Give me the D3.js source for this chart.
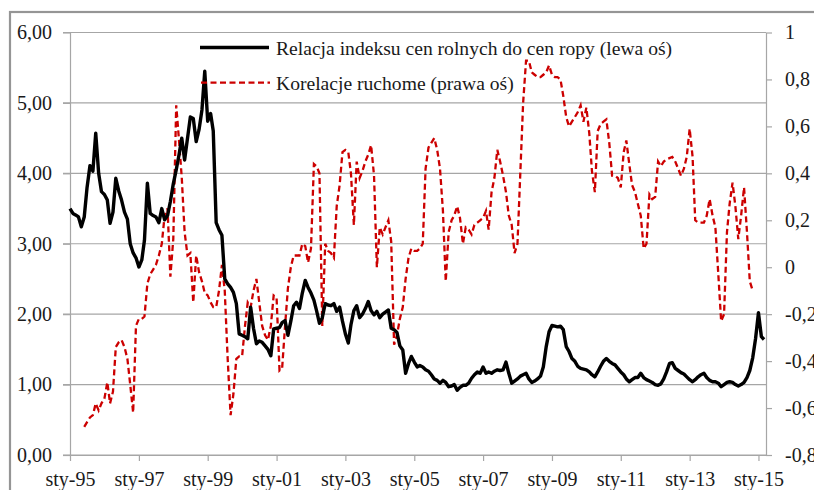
<!DOCTYPE html>
<html><head><meta charset="utf-8">
<script src="https://cdn.jsdelivr.net/npm/d3@7"></script>
<style>
html,body{margin:0;padding:0;background:#fff;overflow:hidden}
svg{display:block}
</style></head>
<body><svg id="c" width="814" height="490"></svg>
<script>
// ---- data ----
const relDates = ["1995-01","1995-02","1995-03","1995-04","1995-05","1995-06","1995-07","1995-08","1995-09","1995-10","1995-11","1995-12",
"1996-01","1996-02","1996-03","1996-04","1996-05","1996-06","1996-07","1996-08","1996-09","1996-10","1996-11","1996-12",
"1997-01","1997-02","1997-03","1997-04","1997-05","1997-06","1997-07","1997-08","1997-09","1997-10","1997-11","1997-12",
"1998-01","1998-02","1998-03","1998-04","1998-05","1998-06","1998-07","1998-08","1998-09","1998-10","1998-11","1998-12",
"1999-01","1999-02","1999-03","1999-04","1999-05","1999-06","1999-07","1999-08","1999-09","1999-10","1999-11","1999-12",
"2000-01","2000-02","2000-03","2000-04","2000-05","2000-06","2000-07","2000-08","2000-09","2000-10","2000-11","2000-12",
"2001-01","2001-02","2001-03","2001-04","2001-05","2001-06","2001-07","2001-08","2001-09","2001-10","2001-11","2001-12",
"2002-01","2002-02","2002-03","2002-04","2002-05","2002-06","2002-07","2002-08","2002-09","2002-10","2002-11","2002-12",
"2003-01","2003-02","2003-03","2003-04","2003-05","2003-06","2003-07","2003-08","2003-09","2003-10","2003-11","2003-12",
"2004-01","2004-02","2004-03","2004-04","2004-05","2004-06","2004-07","2004-08","2004-09","2004-10","2004-11","2004-12",
"2005-01","2005-02","2005-03","2005-04","2005-05","2005-06","2005-07","2005-08","2005-09","2005-10","2005-11","2005-12",
"2006-01","2006-02","2006-03","2006-04","2006-05","2006-06","2006-07","2006-08","2006-09","2006-10","2006-11","2006-12",
"2007-01","2007-02","2007-03","2007-04","2007-05","2007-06","2007-07","2007-08","2007-09","2007-10","2007-11","2007-12",
"2008-01","2008-02","2008-03","2008-04","2008-05","2008-06","2008-07","2008-08","2008-09","2008-10","2008-11","2008-12",
"2009-01","2009-02","2009-03","2009-04","2009-05","2009-06","2009-07","2009-08","2009-09","2009-10","2009-11","2009-12",
"2010-01","2010-02","2010-03","2010-04","2010-05","2010-06","2010-07","2010-08","2010-09","2010-10","2010-11","2010-12",
"2011-01","2011-02","2011-03","2011-04","2011-05","2011-06","2011-07","2011-08","2011-09","2011-10","2011-11","2011-12",
"2012-01","2012-02","2012-03","2012-04","2012-05","2012-06","2012-07","2012-08","2012-09","2012-10","2012-11","2012-12",
"2013-01","2013-02","2013-03","2013-04","2013-05","2013-06","2013-07","2013-08","2013-09","2013-10","2013-11","2013-12",
"2014-01","2014-02","2014-03","2014-04","2014-05","2014-06","2014-07","2014-08","2014-09","2014-10","2014-11","2014-12",
"2015-01","2015-02","2015-03"];
const relValues = [3.50,3.43,3.41,3.38,3.24,3.38,3.80,4.11,4.03,4.57,4.00,3.74,
3.70,3.62,3.29,3.45,3.93,3.75,3.62,3.45,3.35,3.00,2.87,2.80,
2.67,2.77,3.05,3.86,3.43,3.40,3.38,3.30,3.50,3.34,3.40,3.60,
3.85,4.05,4.25,4.50,4.19,4.50,4.80,4.78,4.45,4.62,4.90,5.45,
4.74,4.85,4.60,3.30,3.20,3.12,2.50,2.43,2.38,2.31,2.15,1.72,
1.70,1.68,1.65,2.10,1.80,1.58,1.62,1.60,1.55,1.50,1.41,1.79,
1.80,1.81,1.88,1.91,1.70,1.90,2.12,2.17,2.08,2.30,2.48,2.38,
2.30,2.20,2.05,1.87,1.95,2.15,2.13,2.12,2.15,2.04,2.10,1.90,
1.72,1.59,1.85,2.05,2.12,1.95,2.00,2.08,2.18,2.05,1.99,2.04,
1.95,2.00,2.03,2.06,1.80,1.78,1.74,1.55,1.49,1.16,1.30,1.40,
1.32,1.25,1.27,1.25,1.21,1.19,1.14,1.08,1.06,1.02,1.06,1.03,
0.97,0.98,1.00,0.92,0.96,0.99,0.99,1.02,1.09,1.14,1.18,1.16,
1.25,1.16,1.18,1.16,1.19,1.21,1.20,1.21,1.32,1.16,1.02,1.05,
1.08,1.12,1.14,1.16,1.08,1.03,1.05,1.08,1.12,1.25,1.54,1.75,
1.84,1.83,1.82,1.83,1.78,1.54,1.47,1.37,1.33,1.26,1.23,1.22,
1.21,1.18,1.14,1.11,1.18,1.26,1.33,1.37,1.33,1.30,1.28,1.23,
1.18,1.14,1.08,1.04,1.07,1.10,1.10,1.16,1.10,1.07,1.05,1.03,
1.00,0.99,1.01,1.08,1.18,1.30,1.31,1.23,1.20,1.17,1.15,1.11,
1.07,1.04,1.07,1.11,1.14,1.16,1.10,1.06,1.04,1.04,1.02,0.97,
1.00,1.03,1.04,1.03,1.00,0.98,1.00,1.03,1.10,1.20,1.38,1.65,
2.02,1.68,1.64];

const corDates = ["1995-06","1995-07","1995-08","1995-09","1995-10","1995-11","1995-12",
"1996-01","1996-02","1996-03","1996-04","1996-05","1996-06","1996-07","1996-08","1996-09","1996-10","1996-11","1996-12",
"1997-01","1997-02","1997-03","1997-04","1997-05","1997-06","1997-07","1997-08","1997-09","1997-10","1997-11","1997-12",
"1998-01","1998-02","1998-03","1998-04","1998-05","1998-06","1998-07","1998-08","1998-09","1998-10","1998-11","1998-12",
"1999-01","1999-02","1999-03","1999-04","1999-05","1999-06","1999-07","1999-08","1999-09","1999-10","1999-11","1999-12",
"2000-01","2000-02","2000-03","2000-04","2000-05","2000-06","2000-07","2000-08","2000-09","2000-10","2000-11","2000-12",
"2001-01","2001-02","2001-03","2001-04","2001-05","2001-06","2001-07","2001-08","2001-09","2001-10","2001-11","2001-12",
"2002-01","2002-02","2002-03","2002-04","2002-05","2002-06","2002-07","2002-08","2002-09","2002-10","2002-11","2002-12",
"2003-01","2003-02","2003-03","2003-04","2003-05","2003-06","2003-07","2003-08","2003-09","2003-10","2003-11","2003-12",
"2004-01","2004-02","2004-03","2004-04","2004-05","2004-06","2004-07","2004-08","2004-09","2004-10","2004-11","2004-12",
"2005-01","2005-02","2005-03","2005-04","2005-05","2005-06","2005-07","2005-08","2005-09","2005-10","2005-11","2005-12",
"2006-01","2006-02","2006-03","2006-04","2006-05","2006-06","2006-07","2006-08","2006-09","2006-10","2006-11","2006-12",
"2007-01","2007-02","2007-03","2007-04","2007-05","2007-06","2007-07","2007-08","2007-09","2007-10","2007-11","2007-12",
"2008-01","2008-02","2008-03","2008-04","2008-05","2008-06","2008-07","2008-08","2008-09","2008-10","2008-11","2008-12",
"2009-01","2009-02","2009-03","2009-04","2009-05","2009-06","2009-07","2009-08","2009-09","2009-10","2009-11","2009-12",
"2010-01","2010-02","2010-03","2010-04","2010-05","2010-06","2010-07","2010-08","2010-09","2010-10","2010-11","2010-12",
"2011-01","2011-02","2011-03","2011-04","2011-05","2011-06","2011-07","2011-08","2011-09","2011-10","2011-11","2011-12",
"2012-01","2012-02","2012-03","2012-04","2012-05","2012-06","2012-07","2012-08","2012-09","2012-10","2012-11","2012-12",
"2013-01","2013-02","2013-03","2013-04","2013-05","2013-06","2013-07","2013-08","2013-09","2013-10","2013-11","2013-12",
"2014-01","2014-02","2014-03","2014-04","2014-05","2014-06","2014-07","2014-08","2014-09","2014-10","2014-11"];
const corValues = [-0.68,-0.66,-0.64,-0.63,-0.58,-0.61,-0.58,
-0.56,-0.49,-0.58,-0.53,-0.34,-0.32,-0.31,-0.34,-0.39,-0.50,-0.62,-0.25,
-0.22,-0.22,-0.21,-0.07,-0.03,-0.01,0.01,0.05,0.10,0.22,0.25,-0.04,
0.12,0.69,0.55,0.38,0.15,0.05,0.06,-0.15,0.05,-0.02,-0.06,-0.11,
-0.12,-0.15,-0.17,-0.17,-0.10,0.01,-0.10,-0.39,-0.63,-0.54,-0.39,-0.38,
-0.38,-0.25,-0.15,-0.17,-0.10,-0.05,-0.15,-0.25,-0.29,-0.31,-0.25,-0.12,
-0.13,-0.44,-0.43,-0.25,-0.09,0.00,0.05,0.05,0.05,0.10,0.09,0.02,
0.08,0.44,0.43,0.40,-0.25,0.10,0.07,0.06,0.04,0.26,0.35,0.49,
0.50,0.49,0.40,0.18,0.45,0.38,0.41,0.45,0.48,0.52,0.39,0.00,
0.17,0.14,0.17,0.20,0.11,-0.33,-0.29,-0.22,-0.17,-0.05,0.04,0.08,
0.07,0.07,0.08,0.10,0.42,0.51,0.53,0.55,0.50,0.42,0.24,-0.06,
0.15,0.20,0.22,0.26,0.21,0.10,0.17,0.16,0.14,0.18,0.19,0.20,
0.21,0.24,0.16,0.32,0.38,0.50,0.45,0.39,0.32,0.22,0.18,0.06,
0.10,0.41,0.70,0.88,0.88,0.83,0.82,0.81,0.81,0.82,0.83,0.86,
0.82,0.81,0.81,0.80,0.73,0.64,0.60,0.62,0.64,0.66,0.69,0.62,
0.68,0.57,0.41,0.32,0.58,0.61,0.62,0.63,0.53,0.39,0.39,0.38,
0.34,0.49,0.54,0.44,0.35,0.32,0.27,0.22,0.08,0.10,0.31,0.29,
0.30,0.45,0.43,0.45,0.46,0.465,0.47,0.45,0.42,0.39,0.42,0.47,
0.59,0.47,0.20,0.19,0.19,0.19,0.22,0.29,0.22,0.17,-0.03,-0.23,
-0.20,0.15,0.27,0.36,0.26,0.12,0.22,0.34,0.15,-0.06,-0.10];

const xTickDates = ["1995-01","1997-01","1999-01","2001-01","2003-01","2005-01","2007-01","2009-01","2011-01","2013-01","2015-01"];
const xTickLabels = ["sty-95","sty-97","sty-99","sty-01","sty-03","sty-05","sty-07","sty-09","sty-11","sty-13","sty-15"];
const leftTicks = [0,1,2,3,4,5,6];
const rightTicks = [-0.8,-0.6,-0.4,-0.2,0,0.2,0.4,0.6,0.8,1];
const legendLabels = ["Relacja indeksu cen rolnych do cen ropy (lewa oś)","Korelacje ruchome (prawa oś)"];

// ---- chart ----
const parse = d3.timeParse("%Y-%m");
const loc = d3.formatLocale({decimal:",",thousands:" ",grouping:[3],currency:["","zł"],minus:"-"});
const fmtL = loc.format(".2f");
const fmtR = v => loc.format("~g")(+v.toFixed(1));

const L = 70, R = 766, T = 32.5, B = 455;
const FONT = "'Liberation Serif','Times New Roman',serif";
const svg = d3.select("#c");

// chart area border
svg.append("rect").attr("x",10).attr("y",12).attr("width",820).attr("height",500)
  .attr("fill","#fff").attr("stroke","#959595").attr("stroke-width",2.2);

const x = d3.scaleTime().domain([parse("1995-01"), new Date(2015,2,22)]).range([L,R]);
const yL = d3.scaleLinear().domain([0,6]).range([B,T]);
const yR = d3.scaleLinear().domain([-0.8,1]).range([B,T]);

const gridC = "#a6a6a6";
// gridlines
svg.append("g").selectAll("line").data(leftTicks).join("line")
  .attr("x1",L-7).attr("x2",R).attr("y1",d=>yL(d)).attr("y2",d=>yL(d))
  .attr("stroke",gridC).attr("stroke-width",1.2);

function styleAxis(g){
  g.selectAll("path.domain").attr("stroke",gridC).attr("stroke-width",1.2);
  g.selectAll(".tick line").attr("stroke",gridC).attr("stroke-width",1.2);
  g.selectAll("text").attr("font-family",FONT).attr("font-size",20).attr("fill","#1a1a1a");
}
// left axis
svg.append("g").attr("transform",`translate(${L},0)`)
  .call(d3.axisLeft(yL).tickValues(leftTicks).tickFormat(fmtL).tickSize(7).tickSizeOuter(0).tickPadding(11))
  .call(styleAxis);
// right axis
svg.append("g").attr("transform",`translate(${R},0)`)
  .call(d3.axisRight(yR).tickValues(rightTicks).tickFormat(fmtR).tickSize(6).tickSizeOuter(0).tickPadding(13))
  .call(styleAxis);
// bottom axis
const tickMap = new Map(xTickDates.map((d,i)=>[+parse(d), xTickLabels[i]]));
svg.append("g").attr("transform",`translate(0,${B})`)
  .call(d3.axisBottom(x).tickValues(xTickDates.map(parse)).tickFormat(d=>tickMap.get(+d)).tickSize(6).tickSizeOuter(0).tickPadding(11))
  .call(styleAxis);

// series
const relData = relDates.map((d,i)=>({t:parse(d), v:relValues[i]}));
const corData = corDates.map((d,i)=>({t:parse(d), v:corValues[i]}));
const RED = "#cc0000";

svg.append("path").datum(corData)
  .attr("d", d3.line().x(d=>x(d.t)).y(d=>yR(d.v)))
  .attr("fill","none").attr("stroke",RED).attr("stroke-width",2.3).attr("stroke-dasharray","6,3.5");
svg.append("path").datum(relData)
  .attr("d", d3.line().x(d=>x(d.t)).y(d=>yL(d.v)))
  .attr("fill","none").attr("stroke","#000").attr("stroke-width",3.4).attr("stroke-linejoin","round");

// legend
const leg = svg.append("g");
const legY = [47.5, 82.7];
leg.append("line").attr("x1",200).attr("x2",269).attr("y1",legY[0]).attr("y2",legY[0])
  .attr("stroke","#000").attr("stroke-width",3.4);
leg.append("line").attr("x1",201).attr("x2",270).attr("y1",legY[1]).attr("y2",legY[1])
  .attr("stroke",RED).attr("stroke-width",2.3).attr("stroke-dasharray","6,3.5");
leg.selectAll("text").data(legendLabels).join("text")
  .attr("x",276).attr("y",(d,i)=>legY[i]+7.3)
  .attr("font-family",FONT).attr("font-size",19.6).attr("fill","#1a1a1a")
  .text(d=>d);
</script></body></html>
